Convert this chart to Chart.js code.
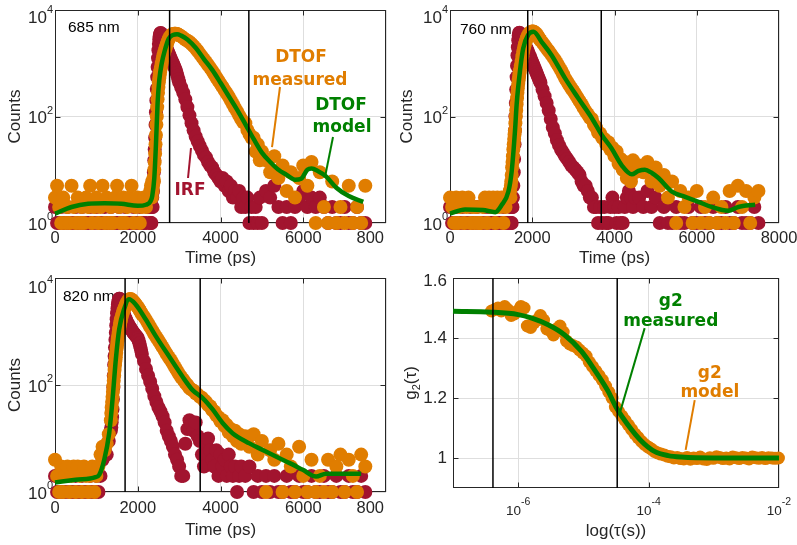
<!DOCTYPE html>
<html><head><meta charset="utf-8">
<script src="https://cdn.jsdelivr.net/npm/chart.js@4.4.1/dist/chart.umd.min.js"></script>
<style>
html,body{margin:0;padding:0;background:#fff;width:797px;height:545px;overflow:hidden}
#wrap{position:relative;width:797px;height:545px;background:#fff}
canvas{position:absolute}
</style></head><body><div id="wrap">
<canvas id="c1" width="398" height="270" style="left:0px;top:0px"></canvas>
<canvas id="c2" width="399" height="270" style="left:398px;top:0px"></canvas>
<canvas id="c3" width="398" height="275" style="left:0px;top:270px"></canvas>
<canvas id="c4" width="399" height="275" style="left:398px;top:270px"></canvas>
</div>
<script>
// ---------- axis ticks / labels ----------
const DTOF_X_TICKS = [0, 2000, 4000, 6000, 8000];
const DTOF_X_LABELS_FULL = ['0', '2000', '4000', '6000', '8000'];
const DTOF_X_LABELS_CUT = ['0', '2000', '4000', '6000', '800'];
const DTOF_X_RANGE = [0, 8000];
const DTOF_Y_TICKS = [1, 100, 10000];
const DTOF_Y_EXP = ['0', '2', '4'];
const DTOF_Y_RANGE = [1, 10000];
const G2_X_TICKS = [1e-6, 1e-4, 1e-2];
const G2_X_EXP = ['-6', '-4', '-2'];
const G2_X_RANGE = [1e-7, 1e-2];
const G2_Y_TICKS = [1, 1.2, 1.4, 1.6];
const G2_Y_LABELS = ['1', '1.2', '1.4', '1.6'];
const G2_Y_RANGE = [0.9, 1.6];

// time-bin grids (ps): [start, end, step] segments of the acquisition bins
function bins(...segs) { const o = []; for (const [a, b, s] of segs) for (let v = a; v <= b + 1e-9; v += s) o.push(v); return o; }

// ---------- 685 nm ----------
const t685 = bins([0, 2300, 50], [2310, 2560, 10], [2580, 3000, 20], [3050, 5000, 50], [5100, 7500, 100]);
const irf685 = [
  2,1,1,2,1,1,2,1,1,1, 2,1,1,2,1,1,1,2,1,1, 2,1,1,1,2,1,1,2,1,1, 1,2,1,1,2,1,1,1,2,1, 1,2,1,1,1,2,1,
  1,2,1,2,3,2,4,6,9,15, 24,40,70,120,200,330,550,850,1250,1750, 2300,2800,3200,3500,3700,3650,
  3300,3000,2700,2450,2250,2050,1870,1720,1580,1450, 1330,1220,1120,1030,950,870,800,730,660,580, 500,440,
  350,280,210,150,105,75,55,42,34,28, 23,19,17,14,12,11,9,8,7,6, 7,5,6,4,5,3,4,3,4,2, 3,2,3,1,2,1,2,1,3,1,
  4,3,5,2,1,2,1,2,3,4, 2,3,2,3,2,1,2,1,1,2, 1,1,2,1,1];
const meas685 = [
  3,5,2,1,3,1,2,1,5,2, 1,3,1,2,1,3,2,5,1,2, 3,1,2,5,1,3,1,2,1,3, 5,2,1,3,1,2,3,5,1,2, 3,1,2,3,2,3,4,
  3,5,4,3,6,4,5,7,6,10, 14,20,30,45,70,100,150,210,280,360, 440,520,600,680,760,850,
  1000,1200,1400,1600,1800,2000,2250,2500,2750,2950, 3150,3300,3400,3500,3550,3600,3600,3600,3550,3500, 3450,3350,
  3200,3000,2800,2650,2500,2300,2100,1900,1700,1500, 1330,1180,1050,930,820,720,630,540,470,410,
  360,310,270,235,200,170,145,125,105,90, 78,75,56,47,40,40,22,30,15,22,
  15,9,18,7,12,4,9,3,7,12, 5,14,1,9,2,1,6,1,2,1, 5,1,2,1,5];
const modelT685 = [0,400,800,1200,1600,2000,2200,2300,2350,2400,2440,2480,2520,2580,2650,2750,2850,2950,3050,3200,3400,3600,3800,4000,4200,4400,4600,4800,5000,5200,5400,5600,5800,5950,6100,6200,6350,6550,6800,7100,7450];
const model685 = [1.5,2.0,2.3,2.35,2.3,2.1,2.2,2.5,3.2,7,30,180,480,1000,1700,2900,3400,3500,3300,2800,1950,1200,750,430,240,135,72,38,21,14,10,8,6.5,6.8,10,10.5,9.5,7.5,4.6,3.2,2.5];
const gates685 = [2770, 4685];

// ---------- 760 nm ----------
const t760 = bins([0, 1450, 50], [1460, 1700, 10], [1720, 2200, 20], [2250, 4500, 50], [4600, 7500, 100]);
const irf760 = [
  2,1,1,2,1,1,2,1,1,1, 2,1,1,2,1,1,1,2,1,2, 1,1,2,1,1,1,2,1,1,1,
  1,2,1,2,1,2,2,3,5,9, 16,30,55,100,180,320,550,900,1400,2000, 2700,3300,3700,3750,3600,
  3400,3150,2900,2650,2450,2250,2050,1900,1750,1600, 1450,1350,1230,1130,1030,950,870,800,730,670, 610,560,510,470,430,
  320,240,180,130,90,62,48,36,29,24, 21,18,16,14,12,11,10,9,8,6, 5,5,4,3,3,2,2,1,2,1, 2,1,1,2,3,2,1,2,1,1, 2,3,4,3,2,3,
  3,2,4,2,3,1,2,1,1,2, 1,1,2,1,1,2,1,1,2,1, 1,2,1,1,2,1,1,1,2,1];
const meas760 = [
  3,2,1,3,1,2,3,1,2,3, 1,2,1,2,1,1,2,3,1,3, 2,3,1,3,2,3,1,2,3,4,
  4,3,5,6,8,11,14,18,24,30, 38,46,55,75,100,130,170,220,280,340, 410,480,560,640,730,
  900,1100,1350,1650,1950,2250,2550,2850,3100,3350, 3550,3700,3800,3900,3950,3950,3900,3800,3650,3500, 3350,3200,3000,2850,2700,
  2420,2150,1900,1700,1500,1320,1160,1000,860,740, 620,520,450,390,340,300,260,225,195,170,
  145,125,110,95,90,70,62,50,48,40, 38,30,33,24,26,18,22,13,16,10, 14,7,12,6,15,9,
  12,9,14,6,11,5,8,3,6,1, 4,2,3,1,4,1,2,1,3,1, 2,1,4,1,5,2,4,1,3,4];
const modelT760 = [0,365,800,1100,1260,1420,1500,1580,1620,1700,1780,1900,2030,2230,2470,2800,3120,3450,3690,3930,4180,4420,4580,4740,4900,5070,5390,5720,6040,6360,6770,7010,7420];
const model760 = [1.5,1.8,1.75,1.6,2.2,3.9,9.4,53,166,700,1900,3400,3900,2500,1420,520,220,93,45,25,12,8.2,9.5,10,8.8,7,3.9,3.1,2.5,2.0,1.7,2.0,2.2];
const gates760 = [1890, 3678];

// ---------- 820 nm ----------
const t820 = bins([0, 1350, 50], [1360, 1600, 10], [1620, 2100, 20], [2150, 4500, 50], [4600, 7500, 100]);
const irf820 = [
  2,1,1,2,1,1,2,1,1,1, 2,1,1,2,1,1,1,2,1,1, 2,1,2,4,6,5,9,14,
  16,20,25,35,55,90,150,240,350,500, 700,950,1300,1700,2200,2700,3200,3600,3900,4100, 4100,3900,3600,3300,3000,
  2650,2400,2150,1950,1780,1630,1500,1400,1310,1230, 1160,1100,1040,990,940,900,860,820,790,760, 680,600,520,450,380,
  280,200,150,115,85,62,48,38,32,26, 20,14,11,9,7,5,4,3,2,2, 8,15,22,18,14,20,11,9,5,3, 8,10,6,4,3,6,2,5,3,4, 2,5,3,2,3,1,2,3,
  2,3,1,2,1,2,1,2,1,1, 2,1,1,2,1,1,2,1,1,2, 1,1,2,1,1,2,1,1,2,1];
const meas820 = [
  4,2,1,3,1,2,3,1,2,3, 1,3,2,1,3,2,1,2,3,1, 2,3,5,7,6,8,12,22,
  30,38,48,60,75,95,120,150,190,235, 280,330,400,480,560,650,750,860,980,1100, 1220,1350,1480,1620,1750,
  2000,2250,2500,2750,3000,3250,3500,3700,3900,4000, 4050,4000,3900,3750,3600,3450,3300,3150,3000,2850, 2700,2550,2400,2250,2100,
  1900,1650,1420,1220,1050,900,780,680,590,510, 440,380,330,290,250,215,185,160,140,125,
  110,100,88,82,78,70,66,60,58,52, 48,42,40,34,32,27,25,21,22,17, 18,13,15,11,14,9,12,8,
  11,7,12,5,9,1,6,4,8,1, 5,3,1,7,2,1,4,1,2,1, 4,1,3,5,1,4,2,1,5,3];
const modelT820 = [0,500,980,1070,1190,1310,1390,1470,1550,1670,1790,1950,2190,2440,2760,3080,3320,3570,3810,4050,4290,4700,5020,5340,5660,5990,6310,6550,6870,7400];
const model820 = [1.5,1.7,1.9,2.1,4,12.6,53,300,1090,2600,4000,3200,1690,810,340,144,81,57,35,19.5,12.6,8.1,6.1,4.6,3.5,2.6,1.95,2.2,2.2,2.2];
const gates820 = [1694, 3509];

// ---------- g2 ----------
const tauMeas = [3.9e-7,4.4e-7,4.9e-7,5.5e-7,6.2e-7,6.9e-7,7.8e-7,8.7e-7,9.8e-7,1.1e-6,
  1.23e-6,1.38e-6,1.55e-6,1.74e-6,1.95e-6,2.19e-6,2.45e-6,2.75e-6,3.09e-6,3.47e-6,
  3.89e-6,4.37e-6,4.9e-6,5.5e-6,6.17e-6,
  6.9e-6,7.8e-6,8.7e-6,9.8e-6,1.1e-5,1.23e-5,1.38e-5,1.55e-5,1.74e-5,1.95e-5,
  2.19e-5,2.45e-5,2.75e-5,3.09e-5,3.47e-5,3.89e-5,4.37e-5,4.9e-5,5.5e-5,6.17e-5,
  6.9e-5,7.8e-5,8.7e-5,9.8e-5,1.1e-4,1.23e-4,1.38e-4,1.55e-4,1.74e-4,1.95e-4,
  2.19e-4,2.45e-4,2.75e-4,3.09e-4,
  3.47e-4,3.89e-4,4.37e-4,4.9e-4,5.5e-4,6.17e-4,6.9e-4,7.8e-4,8.7e-4,9.8e-4,
  1.1e-3,1.23e-3,1.38e-3,1.55e-3,1.74e-3,1.95e-3,2.19e-3,2.45e-3,2.75e-3,3.09e-3,
  3.47e-3,3.89e-3,4.37e-3,4.9e-3,5.5e-3,6.17e-3,6.9e-3,7.8e-3,8.7e-3,9.8e-3];
const g2Meas = [1.49,1.495,1.50,1.49,1.505,1.495,1.475,1.48,1.49,1.505,
  1.50,1.44,1.435,1.45,1.46,1.475,1.46,1.43,1.425,1.41,
  1.43,1.44,1.42,1.39,1.38,
  1.375,1.37,1.36,1.35,1.34,1.32,1.305,1.29,1.275,1.26,
  1.24,1.22,1.20,1.17,1.155,1.14,1.125,1.11,1.095,1.08,
  1.068,1.055,1.045,1.037,1.03,1.022,1.017,1.013,1.01,1.006,
  1.004,1.0,1.002,0.998,
  0.997,1.002,0.996,1.0,0.998,1.003,0.997,0.995,1.001,0.999,
  1.004,1.002,0.998,1.0,0.997,1.003,1.001,0.998,1.002,1.0,
  0.997,1.003,1.001,0.999,1.002,0.998,1.001,1.0,0.999,1.0];
const tauModel = [1e-7,3.9e-7,1e-6,1.58e-6,2.88e-6,5.1e-6,9.3e-6,1.48e-5,2.4e-5,3.16e-5,4.8e-5,7.8e-5,1.23e-4,2e-4,3.16e-4,1e-3,1e-2];
const g2Model = [1.489,1.486,1.478,1.467,1.444,1.411,1.356,1.294,1.222,1.170,1.111,1.056,1.022,1.008,1.003,1.0,1.0];
const gatesG2 = [4.1e-7, 3.3e-5];

// ---------- styles ----------
const IRF_C = '#A2142F', MEAS_C = '#E07D00', GREEN = '#008000', AX = '#262626', GRIDC = '#dedede';
const FONT = '"Liberation Sans", Arial, Helvetica, sans-serif';
const NOTE_FONT = 'bold 17px "DejaVu Sans", sans-serif';

const toXY = (xs, ys) => xs.map((x, i) => ({ x, y: ys[i] }));
const problems = [];
function check(name, a, b) { if (a.length !== b.length) problems.push(name + ' ' + a.length + '/' + b.length); }
check('685irf', t685, irf685); check('685meas', t685, meas685); check('685mod', modelT685, model685);
check('760irf', t760, irf760); check('760meas', t760, meas760); check('760mod', modelT760, model760);
check('820irf', t820, irf820); check('820meas', t820, meas820); check('820mod', modelT820, model820);
check('g2', tauMeas, g2Meas); check('g2mod', tauModel, g2Model);

function gateSets(gates, yr, w) {
  return gates.map(g => ({ data: [{ x: g, y: yr[0] }, { x: g, y: yr[1] }], showLine: true, pointRadius: 0,
    borderColor: '#000', borderWidth: w, order: 0, clip: false }));
}

function decor(spec) {
  return {
    id: 'decor',
    beforeDatasetsDraw(chart) {
      const ctx = chart.ctx, a = chart.chartArea, xs = chart.scales.x, ys = chart.scales.y;
      ctx.save();
      if (spec.tag) {
        ctx.fillStyle = '#000'; ctx.font = '15.5px ' + FONT; ctx.textAlign = 'left'; ctx.textBaseline = 'alphabetic';
        ctx.fillText(spec.tag, a.left + spec.tagDx, a.top + spec.tagDy);
      }
      ctx.strokeStyle = AX; ctx.lineWidth = 1;
      const L = Math.round(a.left) + 0.5, T = Math.round(a.top) + 0.5, R = Math.round(a.right) - 0.5, B = Math.round(a.bottom) - 0.5;
      ctx.strokeRect(L, T, R - L, B - T);
      ctx.beginPath();
      spec.xTicks.forEach(v => { const p = Math.round(xs.getPixelForValue(v)) + 0.5; if (p > L + 2 && p < R - 2) { ctx.moveTo(p, B); ctx.lineTo(p, B - 5); ctx.moveTo(p, T); ctx.lineTo(p, T + 5); } });
      spec.yTicks.forEach(v => { const p = Math.round(ys.getPixelForValue(v)) + 0.5; if (p > T + 2 && p < B - 2) { ctx.moveTo(L, p); ctx.lineTo(L + 5, p); ctx.moveTo(R, p); ctx.lineTo(R - 5, p); } });
      ctx.stroke();
      ctx.fillStyle = AX; ctx.textBaseline = 'middle';
      if (spec.kind === 'dtof') {
        ctx.font = '16.5px ' + FONT;
        spec.xTicks.forEach((v, i) => {
          const px = xs.getPixelForValue(v), last = i === spec.xTicks.length - 1 && spec.cutLast;
          ctx.textAlign = last ? 'right' : 'center';
          ctx.fillText(spec.xLabels[i], last ? px - 2 : px, a.bottom + spec.xLabelDy);
        });
        spec.yTicks.forEach((v, i) => {
          const py = Math.max(ys.getPixelForValue(v) + 2, 18);
          ctx.font = '17px ' + FONT; ctx.textAlign = 'right'; ctx.fillText('10', a.left - 8, py);
          ctx.font = '11px ' + FONT; ctx.textAlign = 'left'; ctx.fillText(spec.yExp[i], a.left - 8, py - 8);
        });
        ctx.font = '17px ' + FONT; ctx.textAlign = 'center';
        ctx.fillText('Time (ps)', (a.left + a.right) / 2, a.bottom + spec.xTitleDy);
        ctx.save(); ctx.translate(a.left + spec.yTitleDx, (a.top + a.bottom) / 2); ctx.rotate(-Math.PI / 2);
        ctx.fillText('Counts', 0, 0); ctx.restore();
      } else {
        spec.xTicks.forEach((v, i) => {
          const px = xs.getPixelForValue(v);
          ctx.font = '13.5px ' + FONT; const w1 = ctx.measureText('10').width;
          ctx.font = '10.5px ' + FONT; const w2 = ctx.measureText(spec.xExp[i]).width;
          const x0 = px - (w1 + w2) / 2;
          ctx.textAlign = 'left';
          ctx.font = '13.5px ' + FONT; ctx.fillText('10', x0, a.bottom + 23);
          ctx.font = '10.5px ' + FONT; ctx.fillText(spec.xExp[i], x0 + w1, a.bottom + 14.5);
        });
        ctx.font = '17px ' + FONT; ctx.textAlign = 'right';
        spec.yTicks.forEach((v, i) => {
          const py = Math.max(ys.getPixelForValue(v), 11);
          ctx.fillText(spec.yLabels[i], a.left - 6, py);
        });
        ctx.textAlign = 'center';
        ctx.fillText('log(\u03C4(s))', (a.left + a.right) / 2, a.bottom + 43);
        ctx.save(); ctx.translate(a.left - 42, (a.top + a.bottom) / 2); ctx.rotate(-Math.PI / 2);
        ctx.font = '17px ' + FONT; const wg = ctx.measureText('g').width, wt = ctx.measureText('(\u03C4)').width;
        ctx.font = '11px ' + FONT; const ws = ctx.measureText('2').width;
        let x0 = -(wg + ws + wt) / 2; ctx.textAlign = 'left';
        ctx.font = '17px ' + FONT; ctx.fillText('g', x0, 0);
        ctx.font = '11px ' + FONT; ctx.fillText('2', x0 + wg, 6);
        ctx.font = '17px ' + FONT; ctx.fillText('(\u03C4)', x0 + wg + ws, 0);
        ctx.restore();
      }
      ctx.restore();
    },
    afterDatasetsDraw(chart) {
      const ctx = chart.ctx, xs = chart.scales.x, ys = chart.scales.y;
      ctx.save();
      ctx.lineWidth = 2; ctx.lineCap = 'butt';
      (spec.pointers || []).forEach(p => {
        ctx.strokeStyle = p.color; ctx.beginPath();
        ctx.moveTo(xs.getPixelForValue(p.x1), ys.getPixelForValue(p.y1));
        ctx.lineTo(xs.getPixelForValue(p.x2), ys.getPixelForValue(p.y2)); ctx.stroke();
      });
      ctx.font = NOTE_FONT; ctx.textAlign = 'center'; ctx.textBaseline = 'alphabetic';
      (spec.notes || []).forEach(n => { ctx.fillStyle = n.color; ctx.fillText(n.text, xs.getPixelForValue(n.x), ys.getPixelForValue(n.y)); });
      if (problems.length && spec.canvas === 'c1') { ctx.fillStyle = 'red'; ctx.font = '12px sans-serif'; ctx.textAlign = 'left'; ctx.fillText(problems.join(' '), 60, 150); }
      ctx.restore();
    }
  };
}

function build(spec) {
  const isD = spec.kind === 'dtof';
  const xr = isD ? DTOF_X_RANGE : G2_X_RANGE, yr = isD ? DTOF_Y_RANGE : G2_Y_RANGE;
  let datasets;
  if (isD) {
    datasets = [
      ...gateSets(spec.gates, yr, 1.5),
      { data: toXY(spec.mt, spec.mv), showLine: true, pointRadius: 0, borderColor: GREEN, borderWidth: 4.5, cubicInterpolationMode: 'monotone', order: 1, clip: false },
      { data: toXY(spec.t, spec.meas), backgroundColor: MEAS_C, pointBackgroundColor: MEAS_C, pointRadius: 7, pointBorderWidth: 0, order: 2, clip: false },
      { data: toXY(spec.t, spec.irf), backgroundColor: IRF_C, pointBackgroundColor: IRF_C, pointRadius: 7, pointBorderWidth: 0, order: 3, clip: false }
    ];
  } else {
    datasets = [
      ...gateSets(spec.gates, yr, 1.5),
      { data: toXY(tauModel, g2Model), showLine: true, pointRadius: 0, borderColor: GREEN, borderWidth: 5, cubicInterpolationMode: 'monotone', order: 1, clip: false },
      { data: toXY(tauMeas, g2Meas), backgroundColor: MEAS_C, pointBackgroundColor: MEAS_C, pointRadius: 6.5, pointBorderWidth: 0, order: 2, clip: false }
    ];
  }
  const xTicks = spec.xTicks, yTicks = spec.yTicks;
  new Chart(document.getElementById(spec.canvas), {
    type: 'scatter',
    data: { datasets },
    options: {
      responsive: false, animation: false, devicePixelRatio: 1, events: [],
      layout: { padding: { left: 0, top: spec.padTop, right: spec.padRight, bottom: 0 } },
      plugins: { legend: { display: false }, tooltip: { enabled: false } },
      scales: {
        x: {
          type: isD ? 'linear' : 'logarithmic', min: xr[0], max: xr[1],
          afterBuildTicks: s => { s.ticks = xTicks.map(v => ({ value: v })); },
          ticks: { display: false }, grid: { color: GRIDC, drawTicks: false, lineWidth: 1 }, border: { display: false },
          afterFit: s => { s.height = spec.xAxisH; s.paddingLeft = 0; s.paddingRight = 0; }
        },
        y: {
          type: isD ? 'logarithmic' : 'linear', min: yr[0], max: yr[1],
          afterBuildTicks: s => { s.ticks = yTicks.map(v => ({ value: v })); },
          ticks: { display: false }, grid: { color: GRIDC, drawTicks: false, lineWidth: 1 }, border: { display: false },
          afterFit: s => { s.width = spec.yAxisW; s.paddingTop = 0; s.paddingBottom = 0; }
        }
      }
    },
    plugins: [decor(spec)]
  });
}

build({ canvas: 'c1', kind: 'dtof', yAxisW: 55, padTop: 10, padRight: 12, xAxisH: 47,
  t: t685, irf: irf685, meas: meas685, mt: modelT685, mv: model685, gates: gates685,
  xTicks: DTOF_X_TICKS, xLabels: DTOF_X_LABELS_CUT, cutLast: true, yTicks: DTOF_Y_TICKS, yExp: DTOF_Y_EXP,
  xLabelDy: 15, xTitleDy: 35.5, yTitleDx: -40, tag: '685 nm', tagDx: 13, tagDy: 21.7,
  notes: [{ text: 'DTOF', color: MEAS_C, x: 5946, y: 1055 }, { text: 'measured', color: MEAS_C, x: 5922, y: 390 },
          { text: 'DTOF', color: GREEN, x: 6913, y: 132 }, { text: 'model', color: GREEN, x: 6937, y: 51 },
          { text: 'IRF', color: IRF_C, x: 3263, y: 3.36 }],
  pointers: [{ color: MEAS_C, x1: 5438, y1: 358, x2: 5245, y2: 26.7 }, { color: GREEN, x1: 6719, y1: 41.2, x2: 6526, y2: 7.3 },
             { color: IRF_C, x1: 3287, y1: 25.6, x2: 3215, y2: 7.0 }] });

build({ canvas: 'c2', kind: 'dtof', yAxisW: 52, padTop: 10, padRight: 18, xAxisH: 47,
  t: t760, irf: irf760, meas: meas760, mt: modelT760, mv: model760, gates: gates760,
  xTicks: DTOF_X_TICKS, xLabels: DTOF_X_LABELS_FULL, cutLast: false, yTicks: DTOF_Y_TICKS, yExp: DTOF_Y_EXP,
  xLabelDy: 15, xTitleDy: 35.5, yTitleDx: -43, tag: '760 nm', tagDx: 10, tagDy: 24 });

build({ canvas: 'c3', kind: 'dtof', yAxisW: 55, padTop: 8, padRight: 12, xAxisH: 53,
  t: t820, irf: irf820, meas: meas820, mt: modelT820, mv: model820, gates: gates820,
  xTicks: DTOF_X_TICKS, xLabels: DTOF_X_LABELS_CUT, cutLast: true, yTicks: DTOF_Y_TICKS, yExp: DTOF_Y_EXP,
  xLabelDy: 16, xTitleDy: 38.5, yTitleDx: -40, tag: '820 nm', tagDx: 8, tagDy: 22.7 });

build({ canvas: 'c4', kind: 'g2', yAxisW: 55, padTop: 8, padRight: 18, xAxisH: 57, gates: gatesG2,
  xTicks: G2_X_TICKS, xExp: G2_X_EXP, yTicks: G2_Y_TICKS, yLabels: G2_Y_LABELS,
  notes: [{ text: 'g2', color: GREEN, x: 2.19e-4, y: 1.507 }, { text: 'measured', color: GREEN, x: 2.19e-4, y: 1.44 },
          { text: 'g2', color: MEAS_C, x: 8.7e-4, y: 1.267 }, { text: 'model', color: MEAS_C, x: 8.7e-4, y: 1.203 }],
  pointers: [{ color: GREEN, x1: 8.7e-5, y1: 1.433, x2: 3.7e-5, y2: 1.157 }, { color: MEAS_C, x1: 5.1e-4, y1: 1.193, x2: 3.7e-4, y2: 1.027 }] });
</script>
</body></html>
